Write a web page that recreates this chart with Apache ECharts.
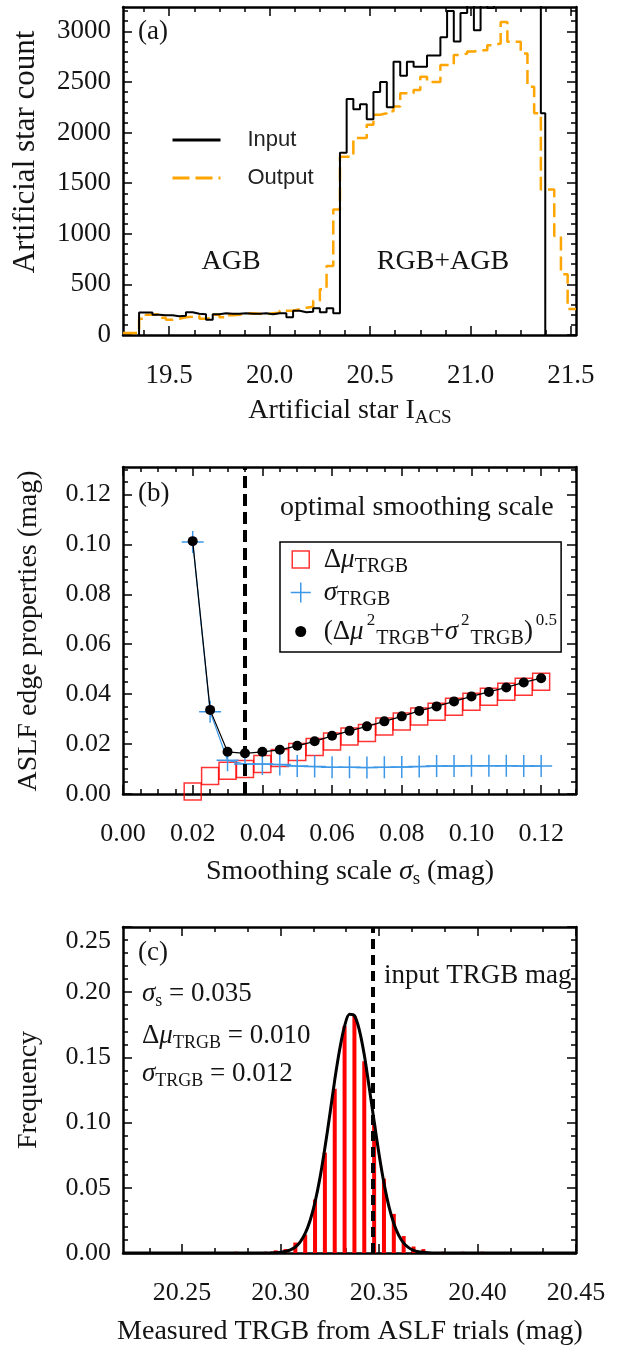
<!DOCTYPE html>
<html><head><meta charset="utf-8">
<script src="https://cdn.jsdelivr.net/npm/echarts@6/dist/echarts.min.js"></script>
<style>html,body{margin:0;padding:0;background:#fff}#c{width:619px;height:1348px}</style>
</head><body><div id="c"></div>
<script>
// ================= DATA =================
// Panel (a): artificial star luminosity functions (histograms)
const aXRange = [19.27, 21.525];
const aYRange = [0, 3240];
const aXTicks = [19.5, 20.0, 20.5, 21.0, 21.5];
const aYTicks = [0, 500, 1000, 1500, 2000, 2500, 3000];
const aBinStart = 19.35;          // left edge of first bin (mag)
const aBinWidth = 1 / 30;         // bin width (mag)
const aInputCounts = [223,223,200,195,195,185,190,225,210,205,150,205,215,210,210,215,210,210,215,205,215,215,175,240,225,230,265,225,265,215,
  1800,2330,2230,2280,2130,2400,2500,2250,2700,2560,2700,2650,2650,2760,2760,2940,3200,2900,3180,3350,3010,3400,3230,3420,3450,3400,3450,3420,3380,3350,2190];
const aInputEnd = 21.372;
const aOutputLead = 20;           // output count between axis start and first bin
const aOutputCounts = [160,200,205,170,150,160,175,180,190,160,170,200,175,195,200,210,215,210,205,215,220,240,240,255,270,280,338,452,682,1240,
  1760,1760,1945,1945,2076,2175,2190,2210,2257,2388,2388,2420,2552,2500,2500,2667,2667,2765,2780,2800,2814,2814,2863,2880,3093,2896,2896,2781,2453,2190,1437,1437,977,600,256];
const aOutputEnd = 21.525;

// Panel (b): ASLF edge properties vs smoothing scale
const bXRange = [0, 0.13];
const bYRange = [0, 0.131];
const bXTicks = [0, 0.02, 0.04, 0.06, 0.08, 0.10, 0.12];
const bYTicks = [0, 0.02, 0.04, 0.06, 0.08, 0.10, 0.12];
const bScale   = [0.020,0.025,0.030,0.035,0.040,0.045,0.050,0.055,0.060,0.065,0.070,0.075,0.080,0.085,0.090,0.095,0.100,0.105,0.110,0.115,0.120];
const bDeltaMu = [0.001,0.0072,0.0093,0.0100,0.0120,0.0144,0.0168,0.0188,0.0210,0.0230,0.0244,0.0270,0.0290,0.0310,0.0330,0.0350,0.0370,0.0390,0.0410,0.0430,0.0450];
const bSigma   = [0.101,0.033,0.0135,0.0120,0.0120,0.0118,0.0112,0.0110,0.0107,0.0107,0.0106,0.0107,0.0108,0.0110,0.0112,0.0112,0.0113,0.0113,0.0113,0.0112,0.0112];
const bTotal   = [0.1013,0.0337,0.0169,0.0163,0.0169,0.0177,0.0193,0.0211,0.0233,0.0253,0.0271,0.0291,0.0311,0.0333,0.0351,0.0371,0.0391,0.0409,0.0427,0.0447,0.0464];
const bOptimal = 0.035;

// Panel (c): distribution of measured TRGB from ASLF trials
const cXRange = [20.22, 20.45];
const cYRange = [0, 0.25];
const cXTicks = [20.25, 20.30, 20.35, 20.40, 20.45];
const cYTicks = [0, 0.05, 0.10, 0.15, 0.20, 0.25];
const cBinCenters = [20.2775,20.2925,20.2975,20.3025,20.3075,20.3125,20.3175,20.3225,20.3275,20.3325,20.3375,20.3425,20.3475,20.3525,20.3575,20.3625,20.3675,20.3725,20.3825,20.3925,20.4025];
const cFreq       = [0.001,0.001,0.002,0.003,0.008,0.014,0.041,0.077,0.126,0.174,0.182,0.147,0.099,0.057,0.030,0.013,0.005,0.003,0.001,0.001,0.001];
const cFitX = [20.22,20.28,20.29,20.295,20.2975,20.30,20.3025,20.305,20.3075,20.31,20.3125,20.315,20.3175,20.32,20.3225,20.325,20.3275,20.33,20.3325,20.335,20.3375,20.34,20.3425,20.345,20.3475,20.35,20.3525,20.355,20.3575,20.36,20.3625,20.365,20.3675,20.37,20.375,20.38,20.45];
const cFitY = [0,0,0,0.0001,0.0002,0.0005,0.0011,0.0024,0.0046,0.0086,0.0150,0.0249,0.039,0.0576,0.0805,0.106,0.1326,0.156,0.174,0.183,0.182,0.171,0.152,0.127,0.101,0.0757,0.0536,0.0358,0.0226,0.0135,0.0076,0.0041,0.0020,0.0010,0.0002,0,0];
const cInputTRGB = 20.347;

// ================= STYLE / HELPERS =================
const SERIF = '"Liberation Serif", "Times New Roman", serif';
const SANS = '"Liberation Sans", Arial, sans-serif';
const INK = '#141414';
const ORANGE = '#ffa500';
const BLUE = '#3d98e8';
const RED = '#ff0000';

function seq(a, b, step) {
  const out = [];
  for (let k = 0; a + k * step <= b + 1e-9; k++) out.push(+(a + k * step).toFixed(6));
  return out;
}

function buildAxes(gi, dim, range, majors, minors, fmt, fontSize, labelExtra) {
  const isX = dim === 'x';
  const posMain = isX ? 'bottom' : 'left', posOpp = isX ? 'top' : 'right';
  const base = {type: 'value', gridIndex: gi, min: range[0], max: range[1], splitLine: {show: false}, axisPointer: {show: false}};
  const tickStyle = {color: '#000', width: 1.5};
  const frame = {show: true, onZero: false, lineStyle: {color: '#000', width: 2.5}};
  return [
    Object.assign({}, base, {position: posMain, axisLine: frame,
      axisTick: {show: true, inside: true, length: 9, lineStyle: tickStyle, customValues: majors},
      axisLabel: Object.assign({show: true, customValues: majors, formatter: fmt, margin: isX ? 27 : 12,
        fontFamily: SERIF, fontSize: fontSize, color: INK}, labelExtra || {})}),
    Object.assign({}, base, {position: posMain, axisLine: {show: false, onZero: false},
      axisTick: {show: true, inside: true, length: 5, lineStyle: tickStyle, customValues: minors}, axisLabel: {show: false}}),
    Object.assign({}, base, {position: posOpp, axisLine: frame,
      axisTick: {show: true, inside: true, length: 9, lineStyle: tickStyle, customValues: majors}, axisLabel: {show: false}}),
    Object.assign({}, base, {position: posOpp, axisLine: {show: false, onZero: false},
      axisTick: {show: true, inside: true, length: 5, lineStyle: tickStyle, customValues: minors}, axisLabel: {show: false}})
  ];
}

function rich(size, subSize, supSize) {
  const sub = subSize || Math.round(size * 0.68);
  const sup = supSize || sub - 2;
  return {
    n: {fontFamily: SERIF, fontSize: size, color: INK, fill: INK},
    i: {fontFamily: SERIF, fontSize: size, fontStyle: 'italic', color: INK, fill: INK},
    sub: {fontFamily: SERIF, fontSize: sub, color: INK, fill: INK, padding: [Math.round(size * 0.55), 0, 0, 0]},
    sup: {fontFamily: SERIF, fontSize: sup, color: INK, fill: INK, padding: [0, 1, Math.round(size * 0.8), 3]}
  };
}

function txt(x, y, text, opt, extra) {
  return Object.assign({type: 'text', x: x, y: y, z: 100, silent: true,
    style: Object.assign({text: text, fontFamily: SERIF, fontSize: 27, fill: INK, align: 'left', verticalAlign: 'middle'}, opt || {})}, extra || {});
}

// ================= SERIES DATA (from arrays) =================
const aInputPts = [[aBinStart, 0]].concat(aInputCounts.map((c, i) => [aBinStart + i * aBinWidth, c])).concat([[aInputEnd, 0]]);
const aOutputPts = [[aXRange[0], aOutputLead]].concat(aOutputCounts.map((c, i) => [aBinStart + i * aBinWidth, c])).concat([[aOutputEnd, aOutputCounts[aOutputCounts.length - 1]]]);
const zip = (xs, ys) => xs.map((x, i) => [x, ys[i]]);

const CROSS = 'path://M0,10L20,10M10,0L10,20';
const LEG_LINE = 'path://M0,0M48,14M0,7L48,7';
const LEG_SQUARE = 'path://M0,0M20,20M1.5,1.5L18.5,1.5L18.5,18.5L1.5,18.5Z';
const LEG_CROSS = 'path://M0,0M20,20M0,10L20,10M10,0L10,20';
const LEG_DOT = 'path://M0,0M20,20M15.5,10A5.5,5.5,0,1,1,4.5,10A5.5,5.5,0,1,1,15.5,10Z';

const legendText = {
  'Δμ_TRGB': '{n|Δ}{i|μ}{sub|TRGB}',
  'σ_TRGB': '{i|σ}{sub|TRGB}',
  'total': '{n|(Δ}{i|μ}{sup|2}{sub|TRGB}{n|+}{i|σ}{sup|2}{sub|TRGB}{n|)}{sup|0.5}'
};

const xAxes = [].concat(
  buildAxes(0, 'x', aXRange, aXTicks, seq(19.375, 21.5, 0.125), v => v.toFixed(1), 27),
  buildAxes(1, 'x', bXRange, bXTicks, seq(0, 0.13, 0.005), v => v.toFixed(2), 26),
  buildAxes(2, 'x', cXRange, cXTicks, seq(20.25 - 0.05 / 3, 20.45, 0.05 / 3), v => v.toFixed(2), 26)
);
const yAxes = [].concat(
  buildAxes(0, 'y', aYRange, aYTicks, seq(0, 3200, 100), v => String(v), 27),
  buildAxes(1, 'y', bYRange, bYTicks, seq(0, 0.13, 0.005), v => v.toFixed(2), 26),
  buildAxes(2, 'y', cYRange, cYTicks, seq(0, 0.25, 0.01), v => (Math.abs(v - 0.25) < 1e-9 ? '{top|0.25}' : v.toFixed(2)), 26,
    {rich: {top: {fontFamily: SERIF, fontSize: 26, color: INK, padding: [28, 0, 0, 0]}}})
);

const option = {
  animation: false,
  backgroundColor: '#fff',
  grid: [
    {left: 123, top: 7, width: 453, height: 328},
    {left: 123, top: 467, width: 453, height: 327},
    {left: 123, top: 927, width: 453, height: 326}
  ],
  xAxis: xAxes,
  yAxis: yAxes,
  legend: [
    {left: 165, top: 124, orient: 'vertical', itemWidth: 48, itemHeight: 14, itemGap: 16, selectedMode: false,
      data: [
        {name: 'Input', icon: LEG_LINE, itemStyle: {color: 'none', borderColor: '#000', borderWidth: 3}},
        {name: 'Output', icon: LEG_LINE, itemStyle: {color: 'none', borderColor: ORANGE, borderWidth: 3, borderType: [17, 6]}}
      ],
      textStyle: {fontFamily: SANS, fontSize: 22, color: '#222', padding: [0, 0, 0, 22]}},
    {left: 280, top: 542, orient: 'vertical', itemWidth: 20, itemHeight: 20, itemGap: 2, selectedMode: false,
      padding: [4, 4, 3, 10], borderColor: '#000', borderWidth: 1.5,
      data: [
        {name: 'Δμ_TRGB', icon: LEG_SQUARE, itemStyle: {color: 'rgba(0,0,0,0)', borderColor: RED, borderWidth: 1.5}},
        {name: 'σ_TRGB', icon: LEG_CROSS, itemStyle: {color: 'rgba(0,0,0,0)', borderColor: BLUE, borderWidth: 1.5}},
        {name: 'total', icon: LEG_DOT, itemStyle: {color: '#000', borderWidth: 0}}
      ],
      formatter: n => legendText[n],
      textStyle: {fontFamily: SERIF, fontSize: 27, color: INK, padding: [0, 0, 0, 8], rich: rich(27, 20, 17)}}
  ],
  series: [
    // ---- (a)
    {name: 'Output', type: 'line', xAxisIndex: 0, yAxisIndex: 0, step: 'end', symbol: 'none', showSymbol: false,
      data: aOutputPts, lineStyle: {color: ORANGE, width: 2.5, type: [14, 6]}, itemStyle: {color: ORANGE}, z: 2},
    {name: 'Input', type: 'line', xAxisIndex: 0, yAxisIndex: 0, step: 'end', symbol: 'none', showSymbol: false,
      data: aInputPts, lineStyle: {color: '#000', width: 2}, itemStyle: {color: '#000'}, z: 3},
    // ---- (b)
    {name: 'Δμ_TRGB', type: 'scatter', xAxisIndex: 4, yAxisIndex: 4, symbol: 'rect', symbolSize: 17,
      data: zip(bScale, bDeltaMu), itemStyle: {color: 'rgba(0,0,0,0)', borderColor: RED, borderWidth: 1.5}, z: 2,
      markLine: {silent: true, symbol: 'none', precision: 6, label: {show: false}, animation: false,
        lineStyle: {color: '#000', width: 4, type: [12, 6]}, data: [{xAxis: bOptimal}]}},
    {name: 'σ_TRGB', type: 'line', xAxisIndex: 4, yAxisIndex: 4, symbol: CROSS, symbolSize: 22, showSymbol: true,
      data: zip(bScale, bSigma), lineStyle: {color: BLUE, width: 1.2},
      itemStyle: {color: BLUE, borderColor: BLUE, borderWidth: 1.5}, z: 3},
    {name: 'total', type: 'line', xAxisIndex: 4, yAxisIndex: 4, symbol: 'circle', symbolSize: 10, showSymbol: true,
      data: zip(bScale, bTotal), lineStyle: {color: '#000', width: 1.2}, itemStyle: {color: '#000'}, z: 4},
    // ---- (c)
    {name: 'trials', type: 'bar', xAxisIndex: 8, yAxisIndex: 8, barWidth: 4,
      data: zip(cBinCenters, cFreq), itemStyle: {color: RED}, z: 2},
    {name: 'fit', type: 'line', xAxisIndex: 8, yAxisIndex: 8, symbol: 'none', showSymbol: false, smooth: 0.3,
      data: zip(cFitX, cFitY), lineStyle: {color: '#000', width: 3}, z: 4,
      markLine: {silent: true, symbol: 'none', precision: 6, label: {show: false}, animation: false,
        lineStyle: {color: '#000', width: 4, type: [10, 6]}, data: [{xAxis: cInputTRGB}]}}
  ],
  graphic: [
    // panel labels and annotations
    txt(138, 32, '(a)'),
    txt(231, 262, 'AGB', {fontSize: 28, align: 'center'}),
    txt(443, 262, 'RGB+AGB', {fontSize: 28, align: 'center'}),
    txt(138, 494, '(b)'),
    txt(280, 508, 'optimal smoothing scale', {fontSize: 28}),
    txt(138, 953, '(c)'),
    txt(142, 994, '{i|σ}{sub|s}{n| = 0.035}', {rich: rich(27)}),
    txt(142, 1036, '{n|Δ}{i|μ}{sub|TRGB}{n| = 0.010}', {rich: rich(27)}),
    txt(142, 1074, '{i|σ}{sub|TRGB}{n| = 0.012}', {rich: rich(27)}),
    txt(384, 976, 'input TRGB mag'),
    // axis titles
    txt(26, 152, 'Artificial star count', {fontSize: 31, align: 'center'}, {rotation: Math.PI / 2}),
    txt(29, 631, 'ASLF edge properties (mag)', {fontSize: 28, align: 'center'}, {rotation: Math.PI / 2}),
    txt(29, 1090, 'Frequency', {fontSize: 28, align: 'center'}, {rotation: Math.PI / 2}),
    txt(350, 411, '{n|Artificial star I}{sub|ACS}', {align: 'center', rich: rich(28)}),
    txt(350, 872, '{n|Smoothing scale }{i|σ}{sub|s}{n| (mag)}', {align: 'center', rich: rich(28)}),
    txt(350, 1332, 'Measured TRGB from ASLF trials (mag)', {fontSize: 28, align: 'center'})
  ]
};

const chart = echarts.init(document.getElementById('c'), null, {renderer: 'canvas'});
chart.setOption(option);
</script>
</body></html>
